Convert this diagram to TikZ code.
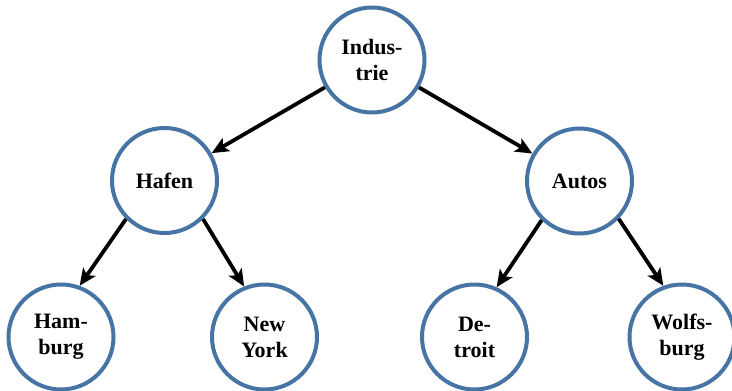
\documentclass[tikz,border=0pt]{standalone}
\usepackage{fontspec}
\setmainfont{Liberation Serif}
\usetikzlibrary{arrows.meta}
\definecolor{ringblue}{RGB}{70,116,165}
\begin{document}
\begin{tikzpicture}[x=1pt,y=-1pt,
  treenode/.style={circle,draw=ringblue,line width=4pt,fill=white,minimum size=105pt,inner sep=0pt,
    align=center,font=\fontsize{22}{26}\selectfont\bfseries},
  edge/.style={line width=3.8pt,-{Stealth[length=17pt,width=15pt,inset=4pt]}}]
\useasboundingbox (0,0) rectangle (732,391);
\node[treenode] (ind) at (372,60) {Indus-\\trie};
\node[treenode] (haf) at (164.5,180.5) {Hafen};
\node[treenode] (aut) at (579.5,181) {Autos};
\node[treenode] (ham) at (61,337) {Ham-\\burg};
\node[treenode] (ny) at (264.5,337) {New\\York};
\node[treenode] (det) at (474.5,337) {De-\\troit};
\node[treenode] (wol) at (682,337) {Wolfs-\\burg};
\draw[edge] (ind) -- (haf);
\draw[edge] (ind) -- (aut);
\draw[edge] (haf.225) -- (ham.70);
\draw[edge] (haf.315) -- (ny.112);
\draw[edge] (aut.226) -- (det.66);
\draw[edge] (aut.316) -- (wol.110);
\end{tikzpicture}
\end{document}
